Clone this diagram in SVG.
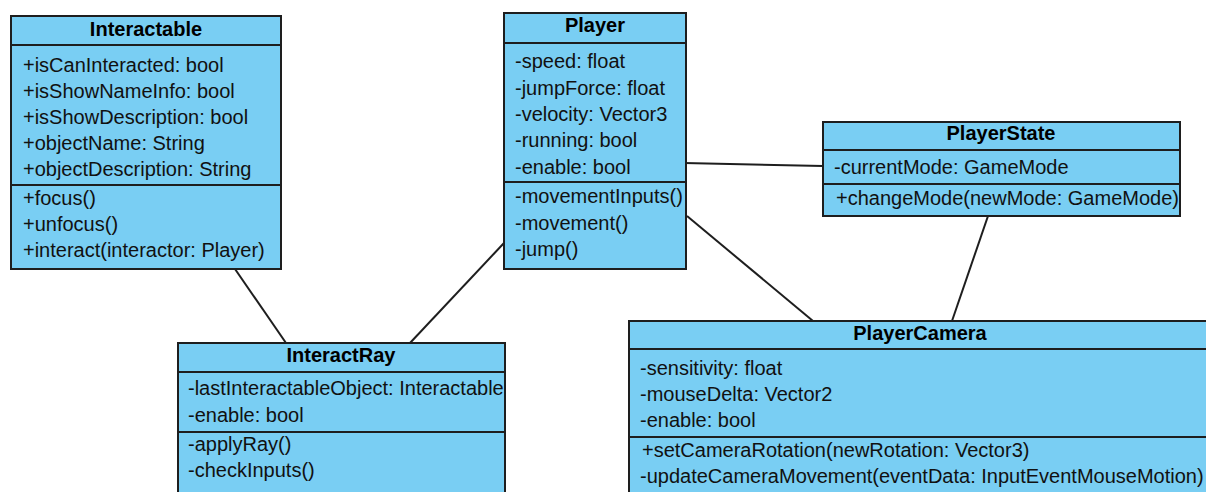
<svg xmlns="http://www.w3.org/2000/svg" width="1206" height="492" viewBox="0 0 1206 492">
<style>
.box{fill:#79cef3;stroke:#1e1e1e;stroke-width:2}
.sep{stroke:#1e1e1e;stroke-width:2}
.t{font-family:"Liberation Sans",Arial,sans-serif;font-size:20px;fill:#111}
.title{font-family:"Liberation Sans",Arial,sans-serif;font-size:20px;font-weight:bold;fill:#000;text-anchor:middle}
.conn line{stroke:#1e1e1e;stroke-width:2}
</style>
<rect width="1206" height="492" fill="#fff"/>
<g class="conn" id="connectors">
<line x1="235" y1="269" x2="286" y2="343"/>
<line x1="504" y1="243" x2="410" y2="343"/>
<line x1="684" y1="163" x2="823" y2="166"/>
<line x1="687" y1="216" x2="813" y2="321"/>
<line x1="988" y1="216" x2="952" y2="321"/>
</g>
<g id="Interactable">
<rect class="box" x="11" y="16" width="270" height="253"/>
<line class="sep" x1="11" y1="45" x2="281" y2="45"/>
<line class="sep" x1="11" y1="185" x2="281" y2="185"/>
<text class="title" x="146" y="36">Interactable</text>
<text class="t" x="23" y="72">+isCanInteracted: bool</text>
<text class="t" x="23" y="98">+isShowNameInfo: bool</text>
<text class="t" x="23" y="124">+isShowDescription: bool</text>
<text class="t" x="23" y="150">+objectName: String</text>
<text class="t" x="23" y="176">+objectDescription: String</text>
<text class="t" x="23" y="205">+focus()</text>
<text class="t" x="23" y="231">+unfocus()</text>
<text class="t" x="23" y="257">+interact(interactor: Player)</text>
</g>
<g id="Player">
<rect class="box" x="504" y="13" width="182" height="256"/>
<line class="sep" x1="504" y1="43" x2="686" y2="43"/>
<line class="sep" x1="504" y1="182" x2="686" y2="182"/>
<text class="title" x="595" y="32">Player</text>
<text class="t" x="515" y="68">-speed: float</text>
<text class="t" x="515" y="95">-jumpForce: float</text>
<text class="t" x="515" y="121">-velocity: Vector3</text>
<text class="t" x="515" y="147">-running: bool</text>
<text class="t" x="515" y="174">-enable: bool</text>
<text class="t" x="515" y="203">-movementInputs()</text>
<text class="t" x="515" y="230">-movement()</text>
<text class="t" x="515" y="256">-jump()</text>
</g>
<g id="PlayerState">
<rect class="box" x="823" y="122" width="357" height="94"/>
<line class="sep" x1="823" y1="150" x2="1180" y2="150"/>
<line class="sep" x1="823" y1="184" x2="1180" y2="184"/>
<text class="title" x="1001" y="140">PlayerState</text>
<text class="t" x="834" y="174">-currentMode: GameMode</text>
<text class="t" x="836" y="205">+changeMode(newMode: GameMode)</text>
</g>
<g id="InteractRay">
<rect class="box" x="178" y="343" width="327" height="160"/>
<line class="sep" x1="178" y1="372" x2="505" y2="372"/>
<line class="sep" x1="178" y1="432" x2="505" y2="432"/>
<text class="title" x="341" y="362">InteractRay</text>
<text class="t" x="188" y="395">-lastInteractableObject: Interactable</text>
<text class="t" x="188" y="422">-enable: bool</text>
<text class="t" x="188" y="451">-applyRay()</text>
<text class="t" x="188" y="477">-checkInputs()</text>
</g>
<g id="PlayerCamera">
<rect class="box" x="629" y="321" width="582" height="182"/>
<line class="sep" x1="629" y1="349" x2="1211" y2="349"/>
<line class="sep" x1="629" y1="437" x2="1211" y2="437"/>
<text class="title" x="920" y="340">PlayerCamera</text>
<text class="t" x="640" y="375">-sensitivity: float</text>
<text class="t" x="640" y="401">-mouseDelta: Vector2</text>
<text class="t" x="640" y="427">-enable: bool</text>
<text class="t" x="642" y="457">+setCameraRotation(newRotation: Vector3)</text>
<text class="t" x="640" y="483">-updateCameraMovement(eventData: InputEventMouseMotion)</text>
</g>
</svg>
